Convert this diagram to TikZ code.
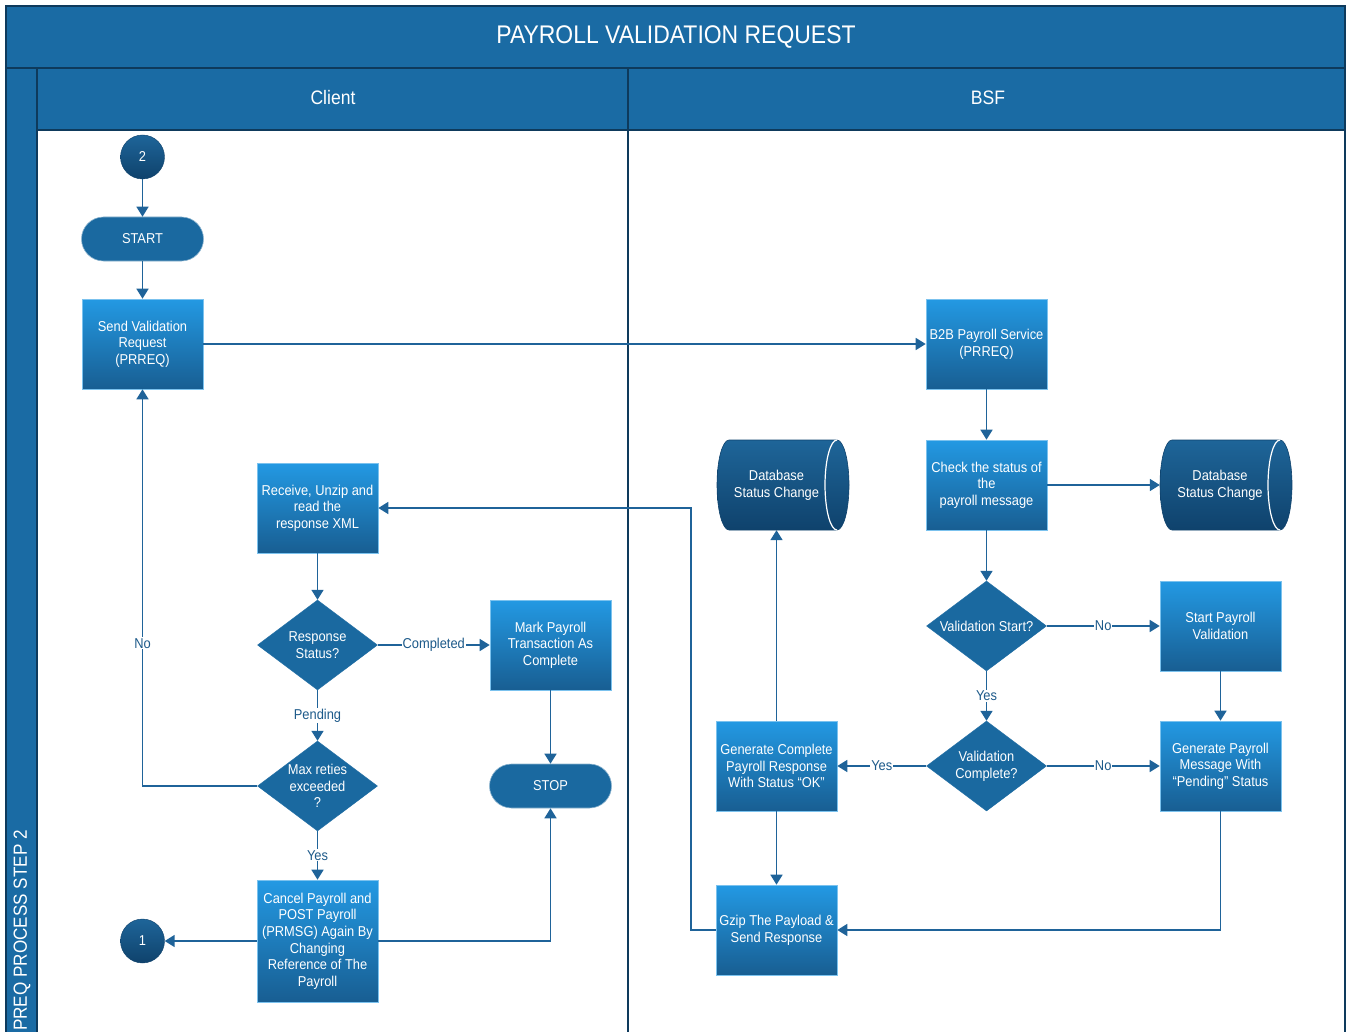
\documentclass[tikz,border=0pt]{standalone}
\usepackage{fontspec}
\setmainfont[FakeStretch=0.9]{Liberation Sans}
\usetikzlibrary{shapes.geometric,arrows.meta,calc}
\definecolor{laneblue}{HTML}{1A6BA4}
\definecolor{borderc}{HTML}{0E3A5C}
\definecolor{boxtop}{HTML}{2399E3}
\definecolor{boxbot}{HTML}{185E92}
\definecolor{diam}{HTML}{1A69A0}
\definecolor{darktop}{HTML}{1E6599}
\definecolor{darkbot}{HTML}{0F426C}
\definecolor{lineblue}{HTML}{1F6399}
\definecolor{labelblue}{HTML}{1D5A8A}
\newcommand{\nodefont}{\fontsize{14.3}{16.6}\selectfont}
\begin{document}
\begin{tikzpicture}[x=1pt,y=-1pt,
  proc/.style={rectangle, minimum width=121pt, minimum height=90pt, inner sep=0pt,
    top color=boxtop, bottom color=boxbot, draw=boxtop!60!white, line width=0.6pt,
    text=white, font=\nodefont, align=center},
  decision/.style={diamond, minimum width=120pt, minimum height=90pt, inner sep=0pt,
    fill=diam, draw=diam},
  dtext/.style={text=white, font=\nodefont, align=center, inner sep=0pt},
  term/.style={rectangle, rounded corners=22pt, minimum width=122pt, minimum height=44pt,
    fill=diam, draw=diam!50!white, line width=0.6pt, text=white, font=\nodefont},
  conn/.style={draw=lineblue, line width=1.6pt, -{Triangle[length=10pt,width=12pt]}},
  elabel/.style={fill=white, text=labelblue, font=\nodefont, inner sep=1pt},
  connector/.style={circle, minimum size=44pt, inner sep=0pt, top color=darktop,
    bottom color=darkbot, draw=darkbot, text=white, font=\nodefont},
  dbtext/.style={rectangle, minimum width=132pt, minimum height=90pt, inner sep=0pt,
    text=white, font=\nodefont, align=center},
  dbshape/.style={top color=darktop, bottom color=darkbot, draw=darkbot, line width=0.6pt},
  hdr/.style={text=white}
]
\useasboundingbox (0,0) rectangle (1348,1032);
% ---------- swimlane frame ----------
\fill[laneblue] (6,6) rectangle (1345,68);
\fill[laneblue] (6,68) rectangle (37,1032);
\fill[laneblue] (37,68) rectangle (1345,130);
\draw[borderc, line width=2.5pt] (6,1032) -- (6,6) -- (1345,6) -- (1345,1032);
\draw[borderc, line width=2.5pt] (6,68) -- (1345,68);
\draw[borderc, line width=2.5pt] (37,130) -- (1345,130);
\draw[borderc, line width=2.5pt] (37,68) -- (37,1032);
\draw[borderc, line width=2.5pt] (628,68) -- (628,1032);
\node[hdr, font=\fontsize{25.5}{25.5}\selectfont] (title) at (676,37) {PAYROLL VALIDATION REQUEST};
\node[hdr, font=\fontsize{19.5}{19.5}\selectfont] (client) at (333,98) {Client};
\node[hdr, font=\fontsize{19.5}{19.5}\selectfont] (bsf) at (988,98) {BSF};
\node[hdr, font=\fontsize{19}{19}\selectfont, rotate=90, anchor=west, inner sep=0pt] (pool) at (22,1031) {PREQ PROCESS STEP 2};
% ---------- Client lane ----------
\node[connector] (c2) at (142.5,157) {2};
\node[term] (start) at (142.5,239) {START};
\node[proc] (send) at (142.5,344) {Send Validation\\Request\\(PRREQ)};
\node[proc] (recv) at (317.5,508) {Receive, Unzip and\\read the\\response XML};
\node[decision, label={[dtext]center:Response\\Status?}] (rs) at (317.5,645) {};
\node[proc] (mark) at (550.5,645) {Mark Payroll\\Transaction As\\Complete};
\node[term] (stop) at (550.5,786) {STOP};
\node[decision, label={[dtext]center:Max reties\\exceeded\\?}] (mx) at (317.5,786) {};
\node[proc, minimum height=122pt] (cancel) at (317.5,941) {Cancel Payroll and\\POST Payroll\\(PRMSG) Again By\\Changing\\Reference of The\\Payroll};
\node[connector] (c1) at (142.5,941) {1};
% ---------- BSF lane ----------
\node[proc] (b2b) at (986.5,344) {B2B Payroll Service\\(PRREQ)};
\node[proc] (check) at (986.5,485) {Check the status of\\the\\payroll message};
\node[decision, label={[dtext]center:Validation Start?}] (vs) at (986.5,626) {};
\node[proc] (spv) at (1220.5,626) {Start Payroll\\Validation};
\node[decision, label={[dtext]center:Validation\\Complete?}] (vc) at (986.5,766) {};
\node[proc] (gp) at (1220.5,766) {Generate Payroll\\Message With\\“Pending” Status};
\node[proc] (gc) at (776.5,766) {Generate Complete\\Payroll Response\\With Status “OK”};
\node[proc] (gz) at (776.5,930) {Gzip The Payload \&\\Send Response};
% database shapes
\path[dbshape] (729,440) -- (837,440) arc[start angle=-90,end angle=90,x radius=12,y radius=45]
   -- (729,530) arc[start angle=90,end angle=270,x radius=12,y radius=45] -- cycle;
\draw[white, line width=1.2pt] (837,440) arc[start angle=-90,end angle=-270,x radius=12,y radius=45];
\node[dbtext] (db1) at (776.5,485) {Database\\Status Change};
\path[dbshape] (1172,440) -- (1280,440) arc[start angle=-90,end angle=90,x radius=12,y radius=45]
   -- (1172,530) arc[start angle=90,end angle=270,x radius=12,y radius=45] -- cycle;
\draw[white, line width=1.2pt] (1280,440) arc[start angle=-90,end angle=-270,x radius=12,y radius=45];
\node[dbtext] (db2) at (1220,485) {Database\\Status Change};
\coordinate (j1) at (691,930);
% ---------- connectors ----------
\draw[conn] (c2) -- (start);
\draw[conn] (start) -- (send);
\draw[conn] (send) -- (b2b);
\draw[conn] (b2b) -- (check);
\draw[conn] (check.east) -- ($(db2.west)+(6,0)$);
\draw[conn] (check) -- (vs);
\draw[conn] (vs) -- node[elabel]{No} (spv);
\draw[conn] (vs) -- node[elabel]{Yes} (vc);
\draw[conn] (spv) -- (gp);
\draw[conn] (vc) -- node[elabel]{No} (gp);
\draw[conn] (vc) -- node[elabel]{Yes} (gc);
\draw[conn] (gc.north) -- (gc.north |- db1.south);
\draw[conn] (gc) -- (gz);
\draw[conn] (gp.south) |- (gz.east);
\draw[conn] (gz.west) -- (j1) |- (recv.east);
\draw[conn] (recv) -- (rs);
\draw[conn] (rs) -- node[elabel]{Completed} (mark);
\draw[conn] (rs) -- node[elabel]{Pending} (mx);
\draw[conn] (mark) -- (stop);
\draw[conn] (mx.west) -| node[elabel, pos=0.68]{No} (send.south);
\draw[conn] (mx) -- node[elabel]{Yes} (cancel);
\draw[conn] (cancel) -- (c1);
\draw[conn] (cancel.east) -| (stop.south);
\end{tikzpicture}
\end{document}
